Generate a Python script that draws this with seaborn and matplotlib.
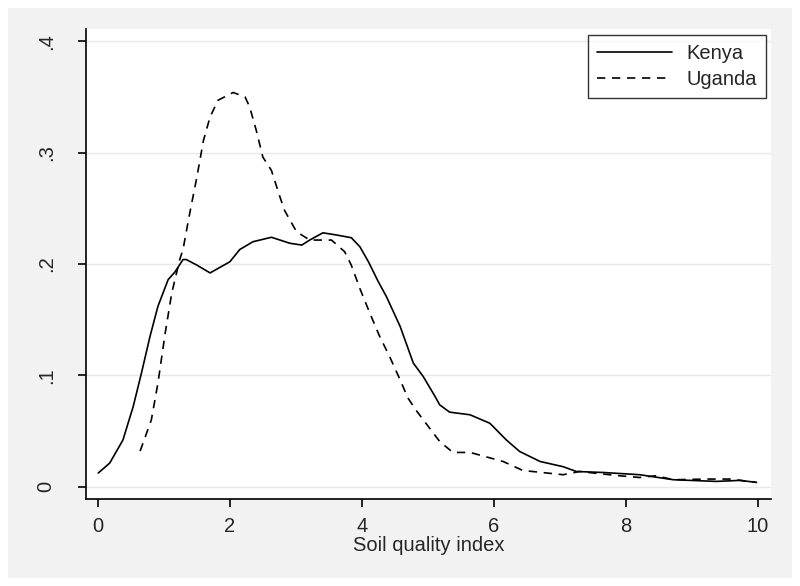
import numpy as np
import pandas as pd
import seaborn as sns
import matplotlib.pyplot as plt
from matplotlib.patches import Rectangle

# density estimates
kenya_x = [0.005, 0.18, 0.38, 0.535, 0.66, 0.79, 0.91, 1.065, 1.17, 1.29, 1.34, 1.50, 1.70, 2.0,
           2.15, 2.35, 2.63, 2.76, 2.91, 3.09, 3.21, 3.41, 3.62, 3.84, 3.97, 4.1, 4.25, 4.37, 4.58,
           4.78, 4.93, 5.11, 5.18, 5.33, 5.64, 5.94, 6.19, 6.39, 6.70, 7.05, 7.25, 7.66, 8.21, 8.72,
           9.37, 9.73, 9.98]
kenya_y = [0.0123, 0.0213, 0.042, 0.072, 0.102, 0.135, 0.162, 0.186, 0.193, 0.204, 0.204, 0.199,
           0.192, 0.202, 0.213, 0.220, 0.224, 0.2215, 0.2186, 0.217, 0.2215, 0.228, 0.226, 0.2236,
           0.2155, 0.202, 0.184, 0.171, 0.144, 0.111, 0.099, 0.081, 0.0735, 0.067, 0.0646, 0.057,
           0.042, 0.0317, 0.0227, 0.018, 0.0137, 0.0128, 0.0108, 0.0063, 0.0048, 0.0057, 0.0039]

uganda_x = [0.64, 0.81, 0.91, 1.02, 1.12, 1.24, 1.29, 1.39, 1.5, 1.6, 1.70, 1.82, 2.05, 2.23, 2.30,
            2.40, 2.50, 2.63, 2.76, 2.83, 3.01, 3.21, 3.54, 3.74, 3.84, 3.97, 4.12, 4.27, 4.42, 4.58,
            4.70, 4.83, 5.18, 5.38, 5.64, 6.14, 6.44, 7.05, 7.30, 7.86, 8.21, 8.46, 8.72, 9.22,
            9.58, 9.98]
uganda_y = [0.032, 0.060, 0.093, 0.138, 0.174, 0.204, 0.213, 0.245, 0.278, 0.311, 0.332, 0.347, 0.354,
            0.350, 0.341, 0.320, 0.296, 0.284, 0.260, 0.248, 0.229, 0.2215, 0.2215, 0.211, 0.199,
            0.178, 0.156, 0.135, 0.117, 0.096, 0.0795, 0.068, 0.0406, 0.0308, 0.0308, 0.0227,
            0.0146, 0.0108, 0.0137, 0.0101, 0.0083, 0.0099, 0.0063, 0.0069, 0.0069, 0.0039]

xticks = [0, 2, 4, 6, 8, 10]
yticks = [0, 0.1, 0.2, 0.3, 0.4]
ytick_labels = ['0', '.1', '.2', '.3', '.4']

df = pd.concat([
    pd.DataFrame({'x': kenya_x, 'y': kenya_y, 'country': 'Kenya'}),
    pd.DataFrame({'x': uganda_x, 'y': uganda_y, 'country': 'Uganda'}),
])

sns.set_style('white')
plt.rcParams['font.family'] = ['Liberation Sans', 'DejaVu Sans']

fig = plt.figure(figsize=(8, 5.86), dpi=100)
fig.patch.set_facecolor('white')
# gray graph region with a thin white margin
fig.patches.append(Rectangle((8 / 800, 8 / 586), 784 / 800, 570 / 586, transform=fig.transFigure,
                             facecolor='#f2f2f2', edgecolor='none', zorder=-10))
ax = fig.add_axes([86 / 800, 1 - 499 / 586, 685 / 800, 470 / 586])
ax.set_facecolor('white')

sns.lineplot(data=df, x='x', y='y', style='country', color='black', linewidth=1.2,
             dashes={'Kenya': '', 'Uganda': (5, 4)}, sort=False, ax=ax)

ax.set_xlim(-0.18, 10.2)
ax.set_ylim(-0.011, 0.411)
ax.set_xticks(xticks)
ax.set_xticklabels([str(t) for t in xticks], fontsize=14.5)
ax.set_yticks(yticks)
ax.set_yticklabels(ytick_labels, fontsize=14.5, rotation=90, va='center')
ax.yaxis.grid(True, color='#e8e8e8', linewidth=1)
ax.set_axisbelow(True)
ax.tick_params(axis='both', direction='out', length=5.8, width=1.2, color='black', left=True, bottom=True)
ax.tick_params(axis='x', pad=7)
ax.tick_params(axis='y', pad=16)
sns.despine(ax=ax)
for side in ['left', 'bottom']:
    ax.spines[side].set_color('black')
    ax.spines[side].set_linewidth(1.2)

ax.set_xlabel('Soil quality index', fontsize=14.5, labelpad=0)
ax.set_ylabel('')

leg = ax.legend(loc='upper right', fontsize=14.5, frameon=True, fancybox=False, edgecolor='black',
                handlelength=3.7, borderpad=0.45, labelspacing=0.35, handletextpad=0.75,
                borderaxespad=0, bbox_to_anchor=(0.993, 0.988))
leg.get_frame().set_linewidth(1.0)
leg.set_title(None)

fig.savefig('out.png', dpi=100, facecolor=fig.get_facecolor())
